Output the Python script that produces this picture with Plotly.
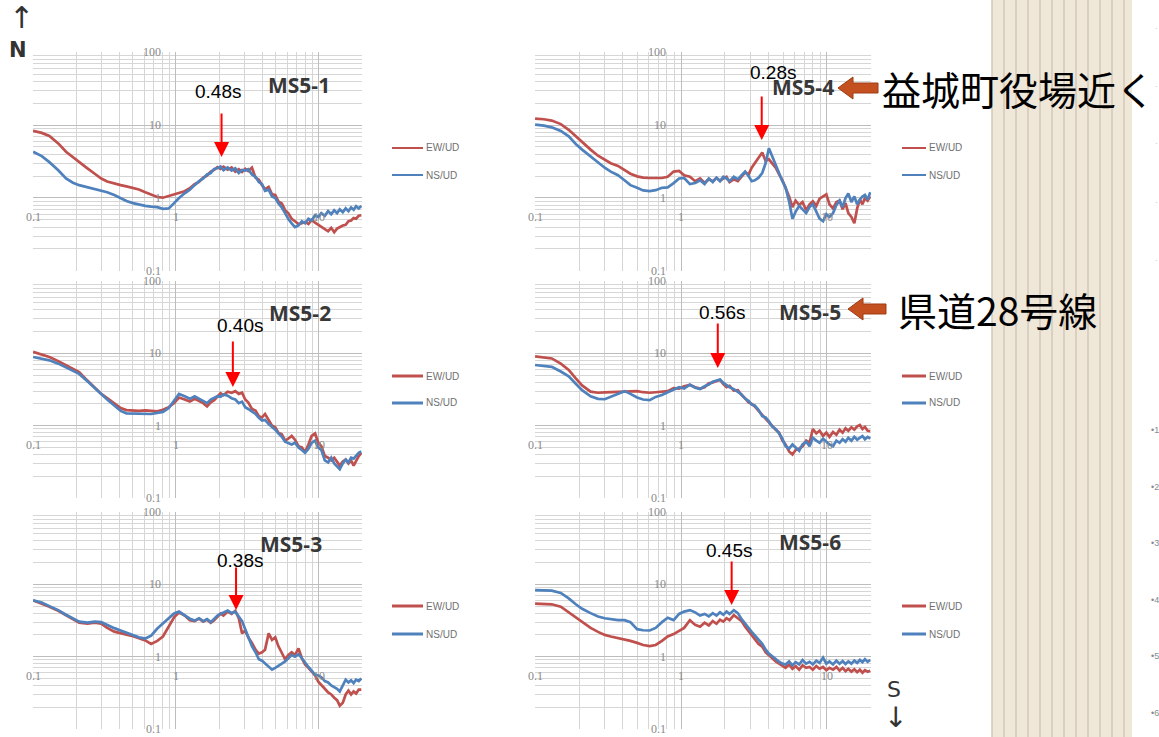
import math
import plotly.graph_objects as go

W, H = 1159, 737

# ---------------------------------------------------------------- data
FREQ_HZ = [0.10, 0.115, 0.13, 0.15, 0.17, 0.19, 0.21, 0.24, 0.27, 0.30,
           0.33, 0.37, 0.41, 0.45, 0.50, 0.55, 0.61, 0.67, 0.74, 0.81,
           0.89, 0.97, 1.05, 1.15, 1.25, 1.35, 1.45, 1.55, 1.65, 1.75,
           1.85, 1.95, 2.05, 2.15, 2.3, 2.45, 2.6, 2.75, 2.9, 3.05,
           3.2, 3.4, 3.6, 3.8, 4.0, 4.2, 4.45, 4.7, 4.95, 5.2,
           5.5, 5.8, 6.1, 6.45, 6.8, 7.2, 7.6, 8.0, 8.45, 8.9,
           9.4, 9.9, 10.4, 11.0, 11.6, 12.2, 12.8, 13.4, 14.0, 14.7,
           15.4, 16.1, 16.8, 17.5, 18.2, 19.0, 19.8]

MS5_1_EW = [8.3, 7.8, 7.1, 5.6, 4.3, 3.6, 3.1, 2.55, 2.15, 1.85,
            1.68, 1.57, 1.50, 1.44, 1.37, 1.31, 1.20, 1.10, 1.03, 1.01,
            1.07, 1.14, 1.20, 1.24, 1.36, 1.55, 1.66, 1.90, 2.02, 2.30,
            2.42, 2.65, 2.50, 2.68, 2.45, 2.62, 2.30, 2.48, 2.28, 2.52,
            2.34, 2.60, 1.90, 1.78, 1.50, 1.32, 1.42, 1.12, 1.10, 0.90,
            0.84, 0.68, 0.62, 0.52, 0.48, 0.44, 0.45, 0.47, 0.44, 0.50,
            0.46, 0.43, 0.40, 0.38, 0.35, 0.39, 0.34, 0.38, 0.40, 0.42,
            0.43, 0.48, 0.49, 0.53, 0.52, 0.57, 0.58]
MS5_1_NS = [4.3, 3.75, 3.1, 2.4, 1.85, 1.62, 1.50, 1.40, 1.33, 1.26,
            1.20, 1.10, 0.99, 0.91, 0.85, 0.81, 0.78, 0.76, 0.75, 0.71,
            0.72, 0.85, 1.00, 1.16, 1.30, 1.50, 1.70, 1.85, 2.10, 2.20,
            2.50, 2.55, 2.70, 2.40, 2.62, 2.38, 2.55, 2.20, 2.42, 2.38,
            2.48, 2.10, 1.95, 1.65, 1.55, 1.25, 1.30, 1.05, 1.00, 0.85,
            0.74, 0.62, 0.52, 0.45, 0.40, 0.42, 0.48, 0.45, 0.52, 0.49,
            0.58, 0.55, 0.62, 0.57, 0.66, 0.60, 0.68, 0.62, 0.70, 0.64,
            0.72, 0.66, 0.74, 0.69, 0.77, 0.72, 0.78]

MS5_2_EW = [10.5, 9.7, 8.9, 7.8, 6.9, 6.2, 5.5, 4.2, 3.4, 2.75,
            2.40, 2.00, 1.75, 1.64, 1.62, 1.60, 1.63, 1.60, 1.58, 1.66,
            1.80, 2.05, 2.45, 2.30, 2.15, 2.35, 2.20, 2.05, 1.85, 2.10,
            2.25, 2.55, 2.80, 2.65, 2.95, 2.85, 3.00, 2.75, 2.85, 2.30,
            2.10, 1.70, 1.62, 1.35, 1.30, 1.45, 1.22, 1.00, 0.95, 0.80,
            0.76, 0.62, 0.66, 0.72, 0.64, 0.52, 0.50, 0.43, 0.55, 0.72,
            0.78, 0.58, 0.52, 0.38, 0.36, 0.33, 0.36, 0.31, 0.28, 0.32,
            0.34, 0.30, 0.33, 0.28, 0.33, 0.38, 0.42]
MS5_2_NS = [8.9, 8.4, 8.0, 7.2, 6.4, 5.8, 5.2, 4.1, 3.3, 2.7,
            2.30, 1.90, 1.60, 1.48, 1.47, 1.45, 1.43, 1.45, 1.50, 1.55,
            1.75, 2.20, 2.75, 2.55, 2.35, 2.55, 2.35, 2.20, 2.05, 2.30,
            2.40, 2.55, 2.50, 2.70, 2.60, 2.40, 2.30, 2.05, 2.15, 1.80,
            1.70, 1.55, 1.45, 1.28, 1.18, 1.20, 1.05, 0.96, 0.88, 0.78,
            0.70, 0.60, 0.57, 0.55, 0.58, 0.50, 0.46, 0.42, 0.48, 0.58,
            0.62, 0.50, 0.46, 0.33, 0.31, 0.36, 0.30, 0.27, 0.25, 0.30,
            0.34, 0.31, 0.36, 0.35, 0.38, 0.42, 0.44]

MS5_3_EW = [6.0, 5.4, 4.9, 4.3, 3.7, 3.25, 2.95, 2.85, 2.95, 2.85,
            2.50, 2.22, 2.12, 2.05, 1.92, 1.80, 1.68, 1.50, 1.65, 1.90,
            2.60, 3.50, 4.10, 3.70, 3.20, 3.10, 3.35, 3.05, 3.25, 2.95,
            3.20, 3.60, 3.95, 3.70, 4.20, 3.90, 4.30, 3.40, 2.10, 2.30,
            1.85, 1.55, 1.25, 1.10, 1.15, 1.25, 2.10, 1.70, 1.85, 1.40,
            1.15, 0.92, 1.05, 1.15, 1.05, 1.30, 0.95, 0.78, 0.70, 0.62,
            0.55, 0.45, 0.40, 0.36, 0.32, 0.30, 0.27, 0.25, 0.21, 0.23,
            0.30, 0.34, 0.30, 0.33, 0.31, 0.35, 0.35]
MS5_3_NS = [6.0, 5.6, 5.0, 4.4, 3.8, 3.35, 3.05, 2.95, 3.05, 3.00,
            2.72, 2.48, 2.30, 2.15, 2.02, 1.85, 1.78, 1.95, 2.45, 2.85,
            3.40, 3.95, 4.20, 3.75, 3.35, 3.15, 3.40, 3.10, 3.30, 3.00,
            3.30, 3.70, 3.90, 4.10, 4.35, 4.00, 4.20, 3.60, 3.10, 2.40,
            1.90, 1.40, 1.15, 0.92, 0.88, 0.80, 0.72, 0.66, 0.70, 0.74,
            0.80, 0.86, 0.95, 1.05, 1.00, 1.08, 0.95, 0.82, 0.72, 0.64,
            0.56, 0.55, 0.52, 0.46, 0.44, 0.40, 0.38, 0.36, 0.33, 0.40,
            0.48, 0.44, 0.47, 0.43, 0.48, 0.46, 0.50]

MS5_4_EW = [12.2, 12.0, 11.5, 10.3, 8.6, 7.0, 5.9, 4.6, 3.8, 3.4,
            3.00, 2.75, 2.45, 2.15, 1.98, 1.90, 1.88, 1.87, 1.88, 1.95,
            2.30, 2.35, 2.05, 1.95, 1.70, 1.85, 1.62, 1.80, 1.70, 1.88,
            1.72, 1.85, 1.95, 1.65, 1.80, 1.70, 1.95, 2.25, 2.10, 2.60,
            3.00, 3.50, 4.20, 3.20, 3.40, 3.00, 2.60, 2.10, 1.75, 1.38,
            1.05, 0.75, 0.92, 0.80, 0.88, 0.68, 0.82, 0.90, 0.78, 0.98,
            1.05, 1.12, 0.82, 0.72, 0.88, 0.92, 0.70, 0.85, 0.62, 0.55,
            0.45, 0.72, 0.95, 0.82, 1.00, 0.92, 1.05]
MS5_4_NS = [10.1, 9.8, 9.3, 8.3, 7.0, 5.5, 4.6, 3.7, 3.0, 2.6,
            2.30, 2.05, 1.75, 1.50, 1.38, 1.27, 1.24, 1.28, 1.38, 1.40,
            1.60, 1.85, 1.88, 1.55, 1.60, 1.75, 1.55, 1.85, 1.65, 1.90,
            1.70, 1.95, 1.85, 1.70, 1.95, 1.80, 2.05, 2.30, 2.00, 1.70,
            1.75, 1.90, 2.20, 3.00, 4.80, 3.80, 2.80, 2.10, 1.70, 1.40,
            0.90, 0.52, 0.65, 0.78, 0.70, 0.62, 0.75, 0.82, 0.65, 0.52,
            0.48, 0.60, 0.55, 0.62, 0.80, 0.92, 0.75, 1.00, 1.15, 0.88,
            1.05, 0.82, 0.95, 1.05, 1.10, 0.95, 1.20]

MS5_5_EW = [9.1, 8.8, 8.5, 7.2, 5.9, 4.5, 3.6, 2.95, 2.85, 2.88,
            2.90, 2.90, 2.95, 2.95, 3.00, 2.90, 2.85, 2.90, 2.95, 3.00,
            3.30, 3.25, 3.50, 3.65, 3.40, 3.25, 3.40, 3.85, 3.95, 4.15,
            4.30, 3.75, 3.40, 3.55, 3.05, 3.10, 2.65, 2.40, 2.10, 2.00,
            1.85, 1.60, 1.40, 1.25, 1.10, 1.00, 0.88, 0.80, 0.62, 0.55,
            0.44, 0.40, 0.46, 0.48, 0.52, 0.62, 0.58, 0.90, 0.78, 0.85,
            0.72, 0.80, 0.70, 0.82, 0.75, 0.88, 0.80, 0.92, 0.85, 0.95,
            0.88, 0.98, 1.02, 0.90, 0.96, 0.85, 0.84]
MS5_5_NS = [6.9, 6.7, 6.5, 5.6, 4.8, 3.8, 3.1, 2.55, 2.35, 2.32,
            2.50, 2.75, 3.00, 2.75, 2.45, 2.30, 2.25, 2.50, 2.65, 2.90,
            3.15, 3.40, 3.25, 3.70, 3.35, 3.20, 3.50, 3.70, 4.05, 4.20,
            4.35, 3.90, 3.60, 3.40, 3.20, 2.95, 2.70, 2.35, 2.20, 1.95,
            1.90, 1.65, 1.35, 1.30, 1.15, 0.98, 0.90, 0.78, 0.66, 0.52,
            0.48, 0.55, 0.50, 0.45, 0.55, 0.60, 0.52, 0.68, 0.62, 0.58,
            0.66, 0.60, 0.55, 0.52, 0.62, 0.58, 0.65, 0.60, 0.68, 0.62,
            0.70, 0.64, 0.68, 0.72, 0.65, 0.70, 0.66]

MS5_6_EW = [5.4, 5.35, 5.3, 4.9, 4.1, 3.5, 3.0, 2.5, 2.2, 2.0,
            1.90, 1.80, 1.75, 1.65, 1.55, 1.45, 1.40, 1.45, 1.65, 1.90,
            2.05, 2.30, 2.50, 3.20, 2.75, 2.60, 2.95, 2.70, 3.10, 2.85,
            3.25, 3.05, 3.40, 3.20, 3.75, 3.40, 3.10, 2.60, 2.25, 2.00,
            1.75, 1.50, 1.38, 1.15, 1.05, 0.95, 0.86, 0.80, 0.74, 0.70,
            0.78, 0.68, 0.74, 0.66, 0.76, 0.70, 0.72, 0.66, 0.74, 0.68,
            0.72, 0.65, 0.70, 0.66, 0.72, 0.64, 0.70, 0.63, 0.68, 0.62,
            0.67, 0.61, 0.66, 0.60, 0.65, 0.62, 0.64]
MS5_6_NS = [8.3, 8.25, 8.2, 7.6, 6.4, 5.3, 4.6, 4.0, 3.6, 3.4,
            3.30, 3.20, 3.20, 3.00, 2.40, 2.32, 2.30, 2.50, 3.00, 3.45,
            3.20, 3.90, 4.20, 4.40, 4.10, 3.70, 3.90, 3.60, 4.00, 3.70,
            4.10, 3.80, 4.20, 3.90, 4.40, 4.00, 3.30, 2.90, 2.50, 2.20,
            1.95, 1.70, 1.50, 1.25, 1.10, 1.02, 0.92, 0.85, 0.80, 0.78,
            0.86, 0.76, 0.84, 0.78, 0.90, 0.80, 0.85, 0.78, 0.88, 0.82,
            0.97, 0.80, 0.86, 0.78, 0.88, 0.80, 0.87, 0.79, 0.86, 0.80,
            0.88, 0.82, 0.90, 0.84, 0.92, 0.85, 0.90]

STATIONS = ["MS5-1", "MS5-2", "MS5-3", "MS5-4", "MS5-5", "MS5-6"]
EW_UD = [MS5_1_EW, MS5_2_EW, MS5_3_EW, MS5_4_EW, MS5_5_EW, MS5_6_EW]
NS_UD = [MS5_1_NS, MS5_2_NS, MS5_3_NS, MS5_4_NS, MS5_5_NS, MS5_6_NS]
PEAK_PERIOD_S = [0.48, 0.40, 0.38, 0.28, 0.56, 0.45]
SERIES_NAMES = ["EW/UD", "NS/UD"]

X_TICKS = [0.1, 1, 10]
X_TICK_TEXT = ["0.1", "1", "10"]
Y_TICKS = [0.1, 1, 10, 100]
Y_TICK_TEXT = ["0.1", "1", "10", "100"]

SITE_NOTES = {"MS5-4": "益城町役場近く", "MS5-5": "県道28号線"}

# ---------------------------------------------------------------- styling / layout
EW_COLOR = "#c0504d"
NS_COLOR = "#4f81bd"
GRID_MAJOR = "#bdbdbd"
GRID_MINOR = "#d6d6d6"
TICK_FONT = dict(family="Liberation Serif", size=12, color="#8a8a8a")

COL_X = [(33, 362), (535, 871)]
ROW_Y = [(52, 271), (281, 498), (512, 729)]
PANEL_CELL = [(0, 0), (0, 1), (0, 2), (1, 0), (1, 1), (1, 2)]
TITLE_XY = [(299, 85), (300, 313), (291, 544), (803, 87), (810, 312), (810, 542)]
PEAK_TEXT_Y = [91, 325, 560, 72, 313, 550]
PEAK_TEXT_DX = [-4, 7, 4, 11, 4, -3]
ARROW_TIP_Y = [157, 387, 610, 140, 368, 605]
ARROW_TAIL_Y = [112, 340, 566, 95, 322, 560]
LEGEND_X = [(392, 423), (902, 926)]
LEGEND_Y = [(148, 175), (376, 403), (606, 634)]
NOTE_POS = {"MS5-4": (838, 878, 88, 880), "MS5-5": (848, 886, 309, 896)}


def fx(p):
    return p / W


def fy(p):
    return 1 - p / H


X_MINOR = [m * 10 ** e for e in (-1, 0) for m in range(2, 10)] + [20]
Y_MINOR = [m * 10 ** e for e in (-1, 0, 1) for m in range(2, 10)]

fig = go.Figure()
shapes = []
annotations = []
layout_axes = {}

# beige striped side band
shapes.append(dict(type="rect", xref="paper", yref="paper", layer="below",
                   x0=fx(992), x1=fx(1132), y0=0, y1=1,
                   fillcolor="#efe7d8", line=dict(width=0)))
for i in range(12):
    xp = 992 + 12 * i
    shapes.append(dict(type="line", xref="paper", yref="paper", layer="below",
                       x0=fx(xp), x1=fx(xp), y0=0, y1=1,
                       line=dict(color="#d2c9bb", width=1.5)))

for k, name in enumerate(STATIONS):
    n = k + 1
    col, row = PANEL_CELL[k]
    xa = "x" if n == 1 else f"x{n}"
    ya = "y" if n == 1 else f"y{n}"
    x_dom = [fx(COL_X[col][0]), fx(COL_X[col][1])]
    y_dom = [fy(ROW_Y[row][1]), fy(ROW_Y[row][0])]
    x_lo, x_hi = -1.0006, math.log10(20) + 0.0006

    layout_axes["xaxis" if n == 1 else f"xaxis{n}"] = dict(
        type="log", domain=x_dom, anchor=ya, range=[x_lo, x_hi],
        tickvals=X_TICKS, showticklabels=False, ticks="",
        showgrid=True, gridcolor=GRID_MAJOR, gridwidth=1,
        minor=dict(tickvals=X_MINOR, showgrid=True, gridcolor=GRID_MINOR,
                   gridwidth=1, ticks=""),
        zeroline=False, showline=False, fixedrange=True,
    )
    layout_axes["yaxis" if n == 1 else f"yaxis{n}"] = dict(
        type="log", domain=y_dom, anchor=xa, range=[-1.0006, 2.0006],
        tickvals=Y_TICKS, showticklabels=False, ticks="",
        showgrid=True, gridcolor=GRID_MAJOR, gridwidth=1,
        minor=dict(tickvals=Y_MINOR, showgrid=True, gridcolor=GRID_MINOR,
                   gridwidth=1, ticks=""),
        zeroline=False, showline=False, fixedrange=True,
    )

    # curves: EW/UD underneath, NS/UD on top
    for vals, color, sname in ((EW_UD[k], EW_COLOR, SERIES_NAMES[0]),
                               (NS_UD[k], NS_COLOR, SERIES_NAMES[1])):
        fig.add_trace(go.Scatter(
            x=FREQ_HZ, y=vals, mode="lines", name=sname, showlegend=False,
            line=dict(color=color, width=2.7), xaxis=xa, yaxis=ya,
            hoverinfo="skip",
        ))

    # horizontal axis at ratio 1 and vertical axis at 1 Hz
    shapes.append(dict(type="line", xref=xa, yref=ya,
                       x0=x_lo, x1=x_hi, y0=0, y1=0, layer="below",
                       line=dict(color="#d9d9d9", width=6)))
    shapes.append(dict(type="line", xref=xa, yref=ya,
                       x0=0, x1=0, y0=-1, y1=2, layer="below",
                       line=dict(color="#aaaaaa", width=1)))

    # tick labels placed at the axis crossing
    for v, t in zip(Y_TICKS, Y_TICK_TEXT):
        annotations.append(dict(xref=xa, yref=ya, x=0, y=math.log10(v),
                                text=t, showarrow=False, xanchor="right",
                                yanchor="middle", xshift=-13, font=TICK_FONT))
    for v, t in zip(X_TICKS, X_TICK_TEXT):
        annotations.append(dict(xref=xa, yref=ya, x=math.log10(v), y=0,
                                text=t, showarrow=False, xanchor="center",
                                yanchor="middle", yshift=-19, font=TICK_FONT))

    # station title
    tx, ty = TITLE_XY[k]
    annotations.append(dict(xref="paper", yref="paper", x=fx(tx), y=fy(ty),
                            text=f"<b>{name}</b>", showarrow=False,
                            xanchor="center", yanchor="middle",
                            font=dict(family="Open Sans", size=21, color="#383838")))

    # predominant period marker
    period = PEAK_PERIOD_S[k]
    fx_peak = math.log10(1.0 / period)
    annotations.append(dict(xref=xa, yref="paper", x=fx_peak,
                            y=fy(ARROW_TIP_Y[k]), ax=0,
                            ay=ARROW_TAIL_Y[k] - ARROW_TIP_Y[k],
                            text="", showarrow=True, arrowhead=2,
                            arrowsize=1.5, arrowwidth=2, arrowcolor="#ff0000"))
    annotations.append(dict(xref=xa, yref="paper", x=fx_peak,
                            y=fy(PEAK_TEXT_Y[k]), xshift=PEAK_TEXT_DX[k],
                            text=f"{period:.2f}s", showarrow=False,
                            xanchor="center", yanchor="middle",
                            font=dict(family="Liberation Sans", size=19, color="#000000")))

    # per-panel legend
    lx0, lx1 = LEGEND_X[col]
    for (ly, color, sname) in ((LEGEND_Y[row][0], EW_COLOR, SERIES_NAMES[0]),
                               (LEGEND_Y[row][1], NS_COLOR, SERIES_NAMES[1])):
        shapes.append(dict(type="line", xref="paper", yref="paper",
                           x0=fx(lx0), x1=fx(lx1), y0=fy(ly), y1=fy(ly),
                           line=dict(color=color, width=3 if row else 2)))
        annotations.append(dict(xref="paper", yref="paper", x=fx(lx1 + 1), y=fy(ly),
                                text=sname, showarrow=False, xanchor="left",
                                yanchor="middle",
                                font=dict(family="Liberation Sans", size=10, color="#707070")))

    # site notes with block arrows
    if name in SITE_NOTES:
        ax0, ax1, acy, txt_x = NOTE_POS[name]
        head = 15
        pts = [(ax0, acy), (ax0 + head, acy - 11), (ax0 + head, acy - 5),
               (ax1, acy - 5), (ax1, acy + 5), (ax0 + head, acy + 5),
               (ax0 + head, acy + 11)]
        path = "M " + " L ".join(f"{fx(px):.5f},{fy(py):.5f}" for px, py in pts) + " Z"
        shapes.append(dict(type="path", xref="paper", yref="paper", path=path,
                           fillcolor="#c4501f", line=dict(color="#9c3c14", width=1)))
        annotations.append(dict(xref="paper", yref="paper", x=fx(txt_x), y=fy(acy),
                                text=SITE_NOTES[name], showarrow=False,
                                xanchor="left", yanchor="middle",
                                font=dict(family="Noto Sans CJK JP", size=39, color="#000000")))

# compass marks
for txt, xp, yp, size in (("\u2191\ufe0e", 21, 17, 30),
                          ("<b>N</b>", 18, 50, 21),
                          ("S", 894, 689, 22),
                          ("\u2193\ufe0e", 895, 717, 28)):
    annotations.append(dict(xref="paper", yref="paper", x=fx(xp), y=fy(yp),
                            text=txt, showarrow=False, xanchor="center",
                            yanchor="middle",
                            font=dict(family="DejaVu Sans", size=size, color="#333333")))

# clipped list markers at the right edge
for i, yp in enumerate((430, 487, 543, 600, 656, 713)):
    annotations.append(dict(xref="paper", yref="paper", x=fx(1149), y=fy(yp),
                            text=f"•{i + 1}", showarrow=False, xanchor="left",
                            yanchor="middle",
                            font=dict(family="Liberation Sans", size=9, color="#8a8a8a")))
for yp in (28, 86, 143, 202, 260):
    annotations.append(dict(xref="paper", yref="paper", x=fx(1153), y=fy(yp),
                            text="·", showarrow=False, xanchor="left",
                            yanchor="middle",
                            font=dict(family="Liberation Sans", size=9, color="#c8c8c8")))

fig.update_layout(
    width=W, height=H, autosize=False,
    margin=dict(l=0, r=0, t=0, b=0, pad=0),
    paper_bgcolor="#ffffff", plot_bgcolor="#ffffff",
    showlegend=False, shapes=shapes, annotations=annotations,
    **layout_axes,
)

fig.write_html("out.html")
